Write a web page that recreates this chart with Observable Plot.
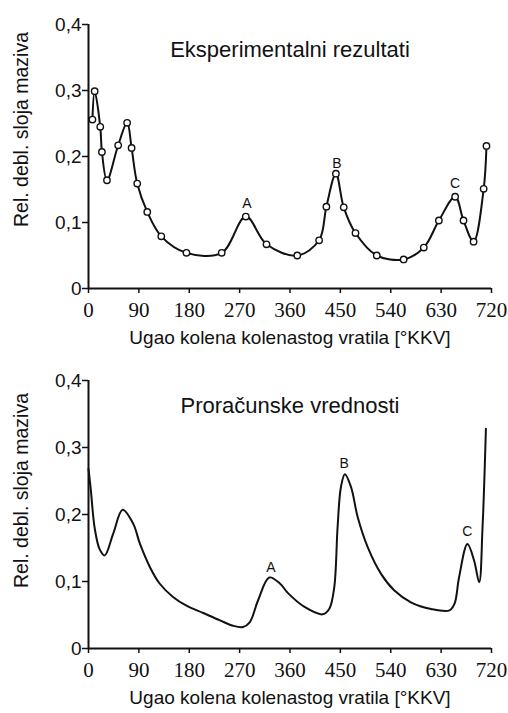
<!DOCTYPE html>
<html>
<head>
<meta charset="utf-8">
<script src="https://cdn.jsdelivr.net/npm/d3@7"></script>
<script src="https://cdn.jsdelivr.net/npm/@observablehq/plot@0.6"></script>
<style>
  body { margin: 0; background: #fff; }
  #wrap { position: relative; width: 508px; height: 713px; background: #fff; }
  #wrap > svg { position: absolute; left: 0; }
  #wrap g[aria-label="x-axis tick label"] text { font-family: "Liberation Serif", serif !important; }
</style>
</head>
<body>
<div id="wrap"></div>
<script>
// ---- data ----
const xTicks = [0, 90, 180, 270, 360, 450, 540, 630, 720];
const yTicks = [0, 0.1, 0.2, 0.3, 0.4];

const titleExp = "Eksperimentalni rezultati";
const titleCalc = "Proračunske vrednosti";
const yLabel = "Rel. debl. sloja maziva";
const xLabel = "Ugao kolena kolenastog vratila [°KKV]";

// Experimental results (measured points)
const expAngle = [7, 11, 21, 24, 33, 53, 69, 77, 87, 105, 130, 175, 238, 281, 318, 373, 412, 425, 442, 456, 477, 515, 563, 599, 626, 655, 670, 688, 706, 711];
const expValue = [0.256, 0.299, 0.245, 0.207, 0.164, 0.217, 0.251, 0.213, 0.159, 0.116, 0.079, 0.054, 0.054, 0.109, 0.067, 0.050, 0.073, 0.124, 0.174, 0.123, 0.084, 0.050, 0.044, 0.062, 0.103, 0.139, 0.103, 0.071, 0.151, 0.216];

// Calculated values (continuous curve)
const calcAngle = [0, 4, 11, 20, 29, 44, 61, 80, 92, 110, 127, 151, 175, 205, 235, 258, 276, 288, 303, 323, 342, 356, 386, 418, 430, 439, 445, 451, 458, 469, 481, 499, 523, 546, 576, 612, 645, 654, 662, 677, 689, 698, 704, 710];
const calcValue = [0.268, 0.238, 0.180, 0.148, 0.139, 0.171, 0.207, 0.186, 0.156, 0.121, 0.097, 0.077, 0.064, 0.053, 0.042, 0.034, 0.032, 0.039, 0.072, 0.106, 0.097, 0.083, 0.062, 0.051, 0.059, 0.091, 0.181, 0.241, 0.260, 0.241, 0.196, 0.151, 0.111, 0.087, 0.069, 0.059, 0.057, 0.067, 0.106, 0.156, 0.131, 0.099, 0.181, 0.328];

// Peak annotations
const expPeakName = ["A", "B", "C"];
const expPeakAngle = [283, 444, 655];
const expPeakValue = [0.129, 0.190, 0.159];
const calcPeakName = ["A", "B", "C"];
const calcPeakAngle = [326, 457, 677];
const calcPeakValue = [0.121, 0.276, 0.174];

// ---- build tables ----
const expData = expAngle.map((a, i) => ({angle: a, value: expValue[i]}));
const calcData = calcAngle.map((a, i) => ({angle: a, value: calcValue[i]}));
const expPeaks = expPeakName.map((n, i) => ({name: n, angle: expPeakAngle[i], value: expPeakValue[i]}));
const calcPeaks = calcPeakName.map((n, i) => ({name: n, angle: calcPeakAngle[i], value: calcPeakValue[i]}));

const ink = "#111";
const sans = "Liberation Sans, Arial, sans-serif";
const serif = "Liberation Serif, serif";
const fmtY = d => d === 0 ? "0" : String(d).replace(".", ",");

function panel({title, data, peaks, withDots, height, marginTop, marginBottom, yLabelDy, xLabelDy}) {
  const marks = [
    Plot.axisY({ticks: yTicks, tickFormat: fmtY, tickSize: 6, tickPadding: 1, fontSize: 19,
      fontFamily: sans, label: null, stroke: ink, strokeWidth: 1.5, fill: ink}),
    Plot.axisX({ticks: xTicks, tickSize: 5, tickPadding: 9, fontSize: 21,
      fontFamily: serif, label: null, stroke: ink, strokeWidth: 1.5, fill: ink}),
    Plot.ruleY([0], {x1: 0, x2: 720, stroke: ink, strokeWidth: 2}),
    Plot.ruleX([0], {y1: 0, y2: 0.4, stroke: ink, strokeWidth: 2}),
    Plot.line(data, {x: "angle", y: "value", curve: "catmull-rom", stroke: ink, strokeWidth: 2}),
  ];
  if (withDots) {
    marks.push(Plot.dot(data, {x: "angle", y: "value", r: 3.2, fill: "white", stroke: ink, strokeWidth: 1.4}));
  }
  marks.push(
    Plot.text(peaks, {x: "angle", y: "value", text: "name", fontSize: 14, fill: ink, fontFamily: sans}),
    Plot.text([title], {text: d => d, frameAnchor: "top", lineAnchor: "middle", dy: 25, fontSize: 22, fill: ink, fontFamily: sans}),
    Plot.text([yLabel], {text: d => d, frameAnchor: "left", textAnchor: "middle", lineAnchor: "middle",
      dx: -67, dy: yLabelDy, rotate: -90, fontSize: 19.5, fill: ink, fontFamily: sans}),
    Plot.text([xLabel], {text: d => d, frameAnchor: "bottom", lineAnchor: "middle", dy: xLabelDy, fontSize: 19, fill: ink, fontFamily: sans})
  );
  const svg = Plot.plot({
    width: 508,
    height,
    marginLeft: 88,
    marginRight: 17,
    marginTop,
    marginBottom,
    x: {domain: [0, 720]},
    y: {domain: [0, 0.4]},
    style: {background: "white", color: ink, overflow: "visible"},
    marks
  });
  d3.select(svg).selectAll('g[aria-label="x-axis tick label"] text').style("font-family", serif);
  return svg;
}

const wrap = document.getElementById("wrap");
const top1 = panel({title: titleExp, data: expData, peaks: expPeaks, withDots: true,
  height: 350, marginTop: 24, marginBottom: 62, yLabelDy: -27, xLabelDy: 49});
top1.style.top = "0px";
const bot = panel({title: titleCalc, data: calcData, peaks: calcPeaks, withDots: false,
  height: 357, marginTop: 24, marginBottom: 65, yLabelDy: -24, xLabelDy: 49});
bot.style.top = "356px";
wrap.appendChild(top1);
wrap.appendChild(bot);
</script>
</body>
</html>
